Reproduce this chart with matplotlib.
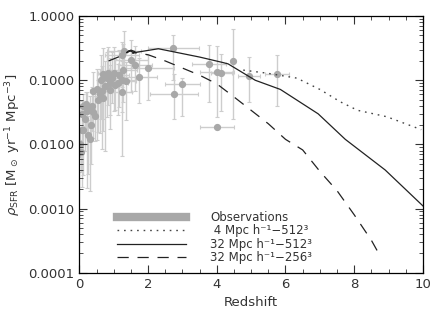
import numpy as np
import matplotlib
matplotlib.use('Agg')
import matplotlib.pyplot as plt
from matplotlib.lines import Line2D

# observations: redshift, SFR density, z error, log error (down, up)
obs_z = [0.02, 0.05, 0.08, 0.08, 0.12, 0.12, 0.15, 0.20, 0.22, 0.26,
         0.30, 0.31, 0.35, 0.37, 0.40, 0.40, 0.45, 0.50, 0.55, 0.60,
         0.62, 0.66, 0.70, 0.70, 0.75, 0.80, 0.84, 0.88, 0.90, 0.95,
         1.00, 1.05, 1.13, 1.15, 1.25, 1.24, 1.27, 1.25, 1.30, 1.36,
         1.50, 1.62, 1.75, 2.00, 2.74, 2.75, 3.00, 3.78, 4.00, 4.13,
         4.48, 4.94, 5.75, 4.00]
obs_sfr = [0.010, 0.0075, 0.017, 0.030, 0.017, 0.039, 0.025, 0.042, 0.033, 0.014,
           0.036, 0.012, 0.020, 0.040, 0.032, 0.067, 0.028, 0.074, 0.050, 0.060,
           0.100, 0.067, 0.052, 0.125, 0.080, 0.108, 0.130, 0.070, 0.090, 0.110,
           0.130, 0.085, 0.090, 0.120, 0.100, 0.065, 0.144, 0.250, 0.290, 0.097,
           0.210, 0.170, 0.112, 0.155, 0.320, 0.062, 0.087, 0.180, 0.134, 0.130,
           0.200, 0.116, 0.124, 0.019]
obs_zerr = [0.02, 0.03, 0.03, 0.05, 0.05, 0.05, 0.05, 0.05, 0.05, 0.05,
            0.05, 0.05, 0.05, 0.10, 0.10, 0.10, 0.10, 0.10, 0.10, 0.15,
            0.10, 0.10, 0.10, 0.20, 0.10, 0.20, 0.30, 0.10, 0.20, 0.20,
            0.20, 0.20, 0.30, 0.30, 0.40, 0.30, 0.40, 0.50, 0.50, 0.30,
            0.50, 0.50, 0.50, 0.75, 0.75, 0.70, 0.50, 0.50, 0.50, 0.30,
            0.00, 0.33, 0.35, 0.50]
obs_dlo = [0.2, 0.3, 0.9, 0.2, 0.7, 0.3, 0.5, 0.4, 1.2, 0.6,
           0.3, 0.8, 0.6, 0.4, 0.4, 0.4, 0.4, 0.8, 0.5, 0.6,
           0.6, 0.9, 0.5, 0.7, 1.0, 0.6, 0.5, 0.6, 0.5, 0.4,
           0.6, 0.4, 0.5, 0.5, 0.5, 1.0, 0.5, 0.5, 0.5, 0.6,
           0.5, 0.4, 0.4, 0.5, 0.5, 0.4, 0.5, 0.6, 0.7, 0.6,
           0.9, 0.4, 0.5, 0.0]
obs_dhi = [0.2, 0.2, 0.3, 0.2, 0.3, 0.2, 0.2, 0.2, 0.3, 0.3,
           0.2, 0.3, 0.3, 0.3, 0.3, 0.3, 0.3, 0.3, 0.3, 0.4,
           0.4, 0.4, 0.4, 0.4, 0.4, 0.4, 0.4, 0.4, 0.4, 0.4,
           0.4, 0.4, 0.3, 0.4, 0.3, 0.3, 0.4, 0.2, 0.3, 0.3,
           0.3, 0.3, 0.3, 0.2, 0.2, 0.3, 0.1, 0.3, 0.4, 0.3,
           0.5, 0.3, 0.3, 0.0]

# simulations
z_4_512 = [4.77, 5.46, 6.33, 7.0, 7.6, 8.1, 8.95, 9.95]
sfr_4_512 = [0.144, 0.129, 0.108, 0.072, 0.046, 0.034, 0.027, 0.017]

z_32_512 = [1.45, 1.38, 1.50, 1.62, 1.55, 1.70, 2.30, 3.50, 4.16, 4.33,
            5.12, 5.85, 6.95, 7.74, 8.90, 10.0]
sfr_32_512 = [0.285, 0.27, 0.295, 0.28, 0.265, 0.275, 0.31, 0.23, 0.19, 0.18,
              0.10, 0.072, 0.030, 0.012, 0.0040, 0.0011]

z_32_256 = [0.85, 1.30, 1.45, 1.60, 2.0, 2.5, 3.0, 3.5, 4.0, 4.5,
            5.0, 5.5, 6.0, 6.5, 7.0, 7.5, 8.0, 8.5, 8.67]
sfr_32_256 = [0.20, 0.25, 0.29, 0.27, 0.25, 0.20, 0.155, 0.12, 0.088, 0.055,
              0.034, 0.021, 0.012, 0.0082, 0.0038, 0.0019, 0.0008, 0.00032, 0.00022]

obs_sfr_a = np.array(obs_sfr)
ylo = obs_sfr_a - obs_sfr_a / 10 ** np.array(obs_dlo)
yhi = obs_sfr_a * 10 ** np.array(obs_dhi) - obs_sfr_a

plt.rcParams['font.family'] = ['DejaVu Sans']
plt.rcParams['mathtext.fontset'] = 'dejavusans'

fig = plt.figure(figsize=(4.36, 3.16), dpi=100)
ax = fig.add_axes([0.182, 0.137, 0.788, 0.812])

ax.errorbar(obs_z, obs_sfr, xerr=obs_zerr, yerr=[ylo, yhi], fmt='o',
            color='#a8a8a8', ecolor='#cdcdcd', elinewidth=1.0, capsize=1.5,
            capthick=0.8, markersize=4.2, zorder=1)

ax.plot(z_4_512, sfr_4_512, color='#444444', ls=(0, (1.2, 3.5)), lw=1.0, zorder=3)
ax.plot(z_32_512, sfr_32_512, color='#222222', ls='-', lw=0.9, zorder=3)
ax.plot(z_32_256, sfr_32_256, color='#222222', ls=(0, (9, 7)), lw=0.9, zorder=3)

ax.set_yscale('log')
ax.set_xlim(0, 10)
ax.set_ylim(1e-4, 1.0)
ax.set_xticks([0, 2, 4, 6, 8, 10])
ax.set_xticks(np.arange(0, 10.01, 0.5), minor=True)
ax.set_yticks([1e-4, 1e-3, 1e-2, 1e-1, 1.0])
ax.set_yticklabels(['0.0001', '0.0010', '0.0100', '0.1000', '1.0000'])
ax.tick_params(which='both', direction='in', top=True, right=True, labelsize=9.5,
               colors='#333333')
ax.tick_params(which='major', length=6, width=0.8)
ax.tick_params(which='minor', length=3, width=0.6)
for s in ax.spines.values():
    s.set_linewidth(0.9)

ax.set_xlabel('Redshift', fontsize=9.5, color='#333333')
ax.set_ylabel(r'$\rho_{\rm SFR}$ [M$_\odot$ yr$^{-1}$ Mpc$^{-3}$]', fontsize=9.5,
              color='#333333', labelpad=4)

handles = [Line2D([], [], color='#a8a8a8', lw=6),
           Line2D([], [], color='#444444', ls=(0, (1.2, 3.5)), lw=1.0),
           Line2D([], [], color='#222222', ls='-', lw=0.9),
           Line2D([], [], color='#222222', ls=(0, (9, 7)), lw=0.9)]
labels = ['Observations',
          ' 4 Mpc h\u207b\u00b9\u2212512\u00b3',
          '32 Mpc h\u207b\u00b9\u2212512\u00b3',
          '32 Mpc h\u207b\u00b9\u2212256\u00b3']
ax.legend(handles, labels, loc='lower left', bbox_to_anchor=(0.085, 0.0),
          frameon=False, fontsize=8.5, handlelength=5.9, handletextpad=2.0,
          labelspacing=0.05, borderpad=0.2, labelcolor='#333333')

plt.savefig('out.png', dpi=100)
